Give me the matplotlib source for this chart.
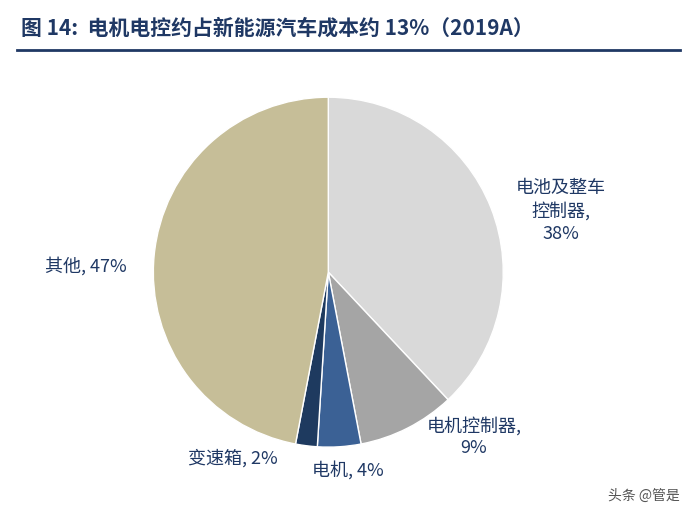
import matplotlib
matplotlib.use("Agg")
import matplotlib.pyplot as plt

plt.rcParams['font.family'] = ['Noto Sans CJK SC', 'DejaVu Sans']

# 数据
categories = ["电池及整车\n控制器,\n38%", "电机控制器,\n9%", "电机, 4%", "变速箱, 2%", "其他, 47%"]
values = [38, 9, 4, 2, 47]
colors = ["#d9d9d9", "#a5a5a5", "#3b6195", "#1e3a5f", "#c6be98"]

fig = plt.figure(figsize=(6.97, 5.14), dpi=100)

# 标题
fig.text(0.03, 0.945, "图 14:  电机电控约占新能源汽车成本约 13%（2019A）",
         fontsize=15, fontweight="bold", color="#1f3864", va="center")
fig.add_artist(plt.Line2D([0.025, 0.975], [0.902, 0.902], color="#1f3864", lw=2))

ax = fig.add_axes([0.22, 0.13, 0.502, 0.681])
ax.pie(values, colors=colors, startangle=90, counterclock=False, radius=1,
       wedgeprops=dict(edgecolor="white", linewidth=1))
ax.set_xlim(-1, 1)
ax.set_ylim(-1, 1)
ax.set_aspect("equal")

# 标签
lab_color = "#1f3864"
fig.text(0.805, 0.59, categories[0], ha="center", va="center", fontsize=13,
         color=lab_color, linespacing=1.3)
fig.text(0.68, 0.15, categories[1], ha="center", va="center", fontsize=13,
         color=lab_color, linespacing=1.3)
fig.text(0.447, 0.085, categories[2], ha="left", va="center", fontsize=13, color=lab_color)
fig.text(0.27, 0.108, categories[3], ha="left", va="center", fontsize=13, color=lab_color)
fig.text(0.065, 0.483, categories[4], ha="left", va="center", fontsize=13, color=lab_color)

# 水印
fig.text(0.975, 0.035, "头条 @管是", ha="right", va="center", fontsize=10, color="#555555")

fig.savefig("out.png", dpi=100, facecolor="white")
